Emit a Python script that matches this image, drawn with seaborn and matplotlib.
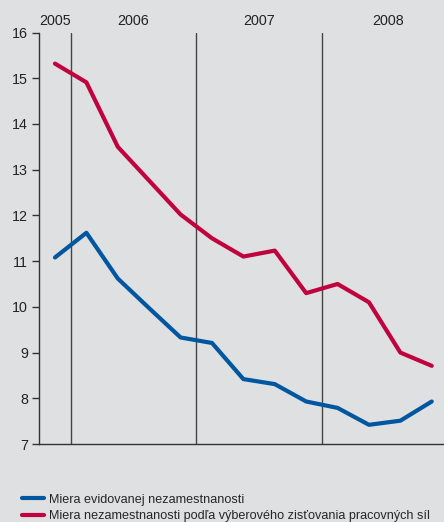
import pandas as pd
import seaborn as sns
import numpy as np
import matplotlib.pyplot as plt

sns.set_theme(style="white")
plt.rcParams['font.family'] = ['Liberation Sans', 'DejaVu Sans']

# quarterly data, 2005 Q4 - 2008 Q4
years = [2005, 2006, 2006, 2006, 2006, 2007, 2007, 2007, 2007, 2008, 2008, 2008, 2008]
registered = [11.08, 11.62, 10.62, 9.97, 9.33, 9.21, 8.42, 8.31, 7.93, 7.79, 7.42, 7.51, 7.93]
survey = [15.32, 14.91, 13.5, 12.76, 12.02, 11.5, 11.1, 11.23, 10.3, 10.5, 10.1, 9.0, 8.71]
series_names = ["Miera evidovanej nezamestnanosti",
                "Miera nezamestnanosti podľa výberového zisťovania pracovných síl"]
yticks = [7, 8, 9, 10, 11, 12, 13, 14, 15, 16]

bg = "#dfe0e2"
colors = ["#0057a0", "#c0033e"]

idx = np.arange(len(years))
df = pd.DataFrame({
    "q": np.concatenate([idx, idx]),
    "value": registered + survey,
    "series": [series_names[0]] * len(idx) + [series_names[1]] * len(idx),
})

fig = plt.figure(figsize=(4.44, 5.22), dpi=100, facecolor=bg)
ax = fig.add_axes([0.0878, 0.1494, 0.9122, 0.7883])
ax.set_facecolor(bg)

sns.lineplot(data=df, x="q", y="value", hue="series", palette=colors,
             linewidth=3, ax=ax, legend=True)

# year separators
yrs = np.array(years)
for i in range(1, len(yrs)):
    if yrs[i] != yrs[i - 1]:
        ax.axvline(i - 0.5, color="#444444", linewidth=1, zorder=0)

# year labels above the plot
for y in sorted(set(years)):
    center = idx[yrs == y].mean()
    if y == 2008:
        center += 0.1
    ax.text(center, 1.01, str(y), transform=ax.get_xaxis_transform(),
            ha="center", va="bottom", fontsize=10.3, color="#222222")

ax.set_xlim(-0.51, 12.39)
ax.set_ylim(7, 16)
ax.set_yticks(yticks)
ax.set_xticks([])
ax.set_xlabel("")
ax.set_ylabel("")
ax.tick_params(axis="y", left=True, length=5, width=1, color="#333333",
               labelsize=10.3, labelcolor="#222222", pad=3)
for s in ["top", "right"]:
    ax.spines[s].set_visible(False)
for s in ["left", "bottom"]:
    ax.spines[s].set_color("#333333")
    ax.spines[s].set_linewidth(1)

handles, labels = ax.get_legend_handles_labels()
ax.get_legend().remove()
fig.legend(handles, labels, loc="upper left", bbox_to_anchor=(0.05, 0.054),
           frameon=False, fontsize=9.1, handlelength=1.7, handletextpad=0.45,
           labelspacing=0.35, borderaxespad=0, borderpad=0)

fig.savefig("out.png", dpi=100, facecolor=bg)
